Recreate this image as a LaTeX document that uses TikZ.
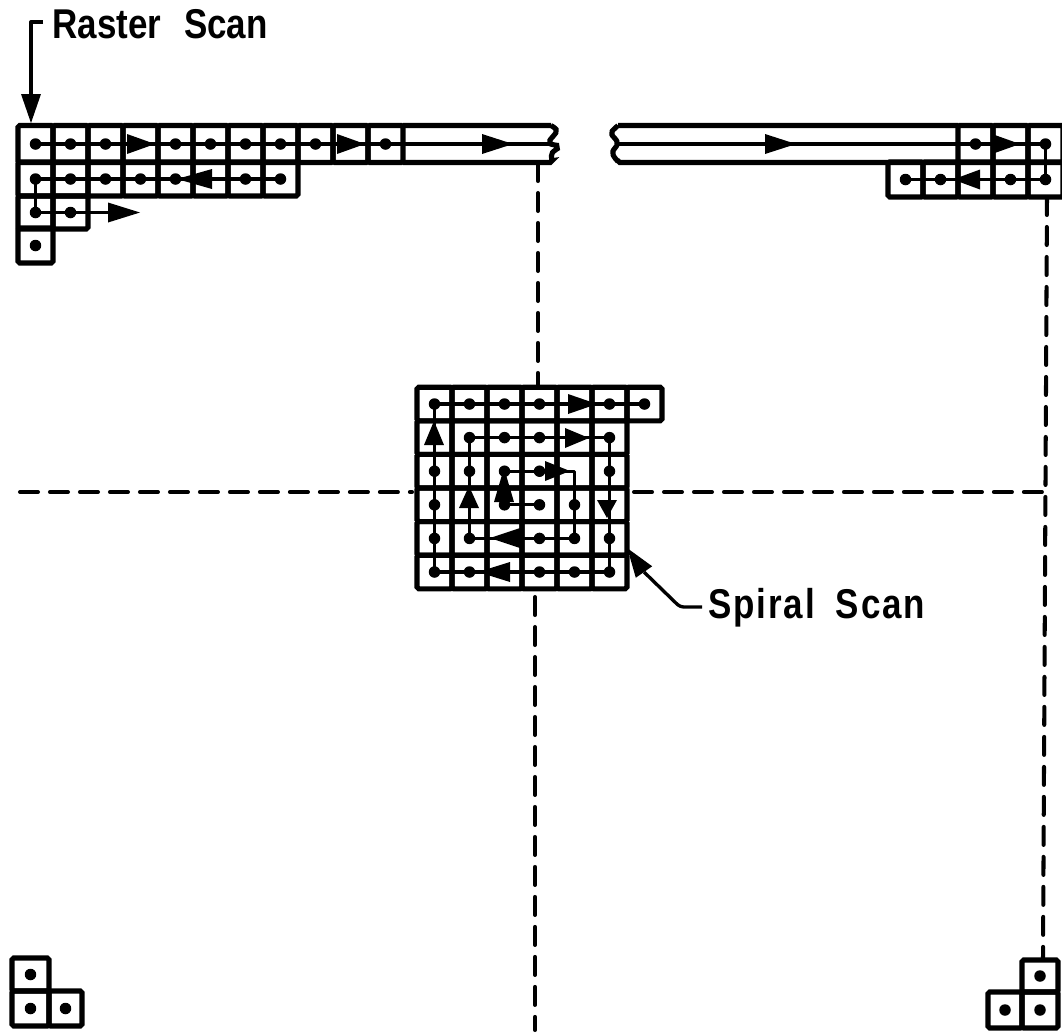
\documentclass[tikz,border=0pt]{standalone}
\usepackage{fontspec}
\newfontfamily\handfont[FakeStretch=0.84]{Liberation Sans Bold}
\newfontfamily\handwide[FakeStretch=0.84,LetterSpace=4.5]{Liberation Sans Bold}
\usetikzlibrary{shapes.geometric, positioning}

\begin{document}
\begin{tikzpicture}[
  x=0.02cm, y=-0.02cm,
  cell/.style={rectangle, draw, line width=2.9pt, rounded corners=1pt, minimum width=0.7cm, inner sep=0pt, outer sep=0pt},
  dot/.style={circle, fill, inner sep=0pt, minimum size=0.23cm},
  head/.style={isosceles triangle, isosceles triangle stretches, fill, inner sep=0pt, outer sep=0pt, minimum width=0.4cm, anchor=lower side},
  scan/.style={line width=1.9pt, line join=round},
  axis/.style={line width=2.3pt, line cap=round, dash pattern=on 0.36cm off 0.24cm},
  bar/.style={line width=2.9pt, rounded corners=1pt},
  lbl/.style={font=\handfont\fontsize{23.7}{26}\selectfont, inner sep=0pt, anchor=base west},
]
  \useasboundingbox (0,0) rectangle (1062,1032);

  % center lines
  \coordinate (axl) at (20,492);
  \coordinate (axr) at (1045,492);
  \coordinate (axt) at (538,163);
  \coordinate (axb) at (535,1030);
  \coordinate (axrt) at (1047,197);
  \coordinate (axrb) at (1043,958);
  \coordinate (axcl) at (412,492);
  \coordinate (axcr) at (634,492);
  \coordinate (axct) at (538,386);
  \coordinate (axcb) at (535,597);
  \draw[axis] (axl) -- (axcl);
  \draw[axis] (axcr) -- (axr);
  \draw[axis] (axt) -- (axct);
  \draw[axis] (axcb) -- (axb);
  \draw[axis] (axrt) -- (axrb);

  % raster, upper left
  \foreach \c in {1,...,11}
    \node[cell, minimum height=0.74cm] (t\c) at ({35.5+35*(\c-1)},144) {};
  \foreach \c in {1,...,8}
    \node[cell, minimum height=0.68cm] (u\c) at ({35.5+35*(\c-1)},179) {};
  \foreach \c in {1,2}
    \node[cell, minimum height=0.66cm] (v\c) at ({35.5+35*(\c-1)},212.5) {};
  \node[cell, minimum height=0.7cm] (w1) at (35.5,245.5) {};

  % broken bars
  \coordinate (brka) at (551,125.5);
  \coordinate (brkb) at (552,162.5);
  \coordinate (brkc) at (618,125.5);
  \coordinate (brkd) at (618,162.5);
  \coordinate (brke) at (553,144);
  \coordinate (brkf) at (617,144);
  \coordinate (tipr) at (125,212.5);

  % raster, upper right
  \foreach \c in {1,2,3}
    \node[cell, minimum height=0.74cm] (p\c) at ({975.5+35*(\c-1)},144) {};
  \foreach \c in {1,...,5}
    \node[cell, minimum height=0.7cm] (q\c) at ({905.5+35*(\c-1)},179.5) {};

  \draw[bar] (t11.north east) -- (brka) plot[smooth] coordinates {(brka) (556,131) (550,142) (557,147) (552,154) (brkb)} -- (t11.south east);
  \draw[bar] (p1.north west) -- (brkc) plot[smooth] coordinates {(brkc) (612,133) (617,143) (613,153) (brkd)} -- (p1.south west);

  % spiral
  \foreach \r in {1,...,6}
    \foreach \c in {1,...,6}
      \node[cell, minimum height=0.672cm] (s\r\c) at ({434.5+35*(\c-1)},{404+33.6*(\r-1)}) {};
  \node[cell, minimum height=0.672cm] (s17) at (644.5,404) {};

  % lower corners
  \node[cell, minimum width=0.74cm, minimum height=0.66cm] (la) at (30.5,974.5) {};
  \node[cell, minimum width=0.74cm, minimum height=0.7cm] (lb) at (30.5,1008.5) {};
  \node[cell, minimum width=0.66cm, minimum height=0.7cm] (lc) at (65.5,1008.5) {};
  \node[cell, minimum width=0.72cm, minimum height=0.64cm] (ra) at (1040,976) {};
  \node[cell, minimum width=0.68cm, minimum height=0.72cm] (rb) at (1005,1010) {};
  \node[cell, minimum width=0.72cm, minimum height=0.72cm] (rc) at (1040,1010) {};

  % scan lines
  \draw[scan] (t1.center) -- (brke);
  \draw[scan] (u8.center) -- (u1.center) -- (v1.center) -- (tipr);
  \draw[scan] (brkf) -- (p3.center) -- (q5.center) -- (q1.center);
  \draw[scan] (s44.center) -- (s43.center) -- (s33.center) -- (s35.center) -- (s55.center) -- (s52.center) -- (s22.center) -- (s26.center) -- (s66.center) -- (s61.center) -- (s11.center) -- (s17.center);

  % dots
  \foreach \c in {1,2,3,5,6,7,8,9,11}
    \node[dot] (dt\c) at (t\c) {};
  \foreach \c in {1,2,3,4,5,7,8}
    \node[dot] (du\c) at (u\c) {};
  \foreach \n in {v1,v2,w1,p1,p3,q1,q2,q4,q5,la,lb,lc,ra,rb,rc,s11,s12,s13,s14,s16,s17,s22,s23,s24,s26,s31,s32,s33,s34,s36,s41,s43,s44,s45,s51,s52,s54,s55,s56,s61,s62,s64,s65,s66}
    \node[dot] (d\n) at (\n) {};

  % arrowheads, name/x/y/direction/length
  \foreach \n/\hx/\hy/\ang/\len in {t4/127/144/0/28, t10/337/144/0/28, bar/482/144/0/31, barr/765/144/0/31,
      p2/992/144/0/28, out/108/212.5/0/32, s15/568/404/0/29, s25/565/438/0/24, s35/545/471/0/25,
      u6/212/179/180/35, q3/980/179.5/180/27, s53/520/538/180/30, s63/510/572/180/32,
      s21/434/445/90/24, s42/469/508/90/22, s43/504/502/90/34, s46/607/500/-90/18,
      raster/31/94/-90/29, spiral/644/572/125/29}
    \node[head, rotate=\ang, minimum height={\len*0.02cm}] (h\n) at (\hx,\hy) {};

  % labels
  \node[lbl] (raster) at (52,38) {Raster\hspace{13pt}Scan};
  \node[lbl, font=\handwide\fontsize{23.7}{26}\selectfont] (spiral) at (708,618) {Spiral\hspace{12pt}Scan};
  \coordinate (rend) at (43,22);
  \coordinate (rbend) at (31,22);
  \coordinate (send) at (702,607);
  \coordinate (sbend) at (680,607);
  \draw[scan] (rend) -- (rbend) -- (hraster.lower side);
  \draw[scan, rounded corners=2pt] (send) -- (sbend) -- (hspiral.lower side);
\end{tikzpicture}
\end{document}
